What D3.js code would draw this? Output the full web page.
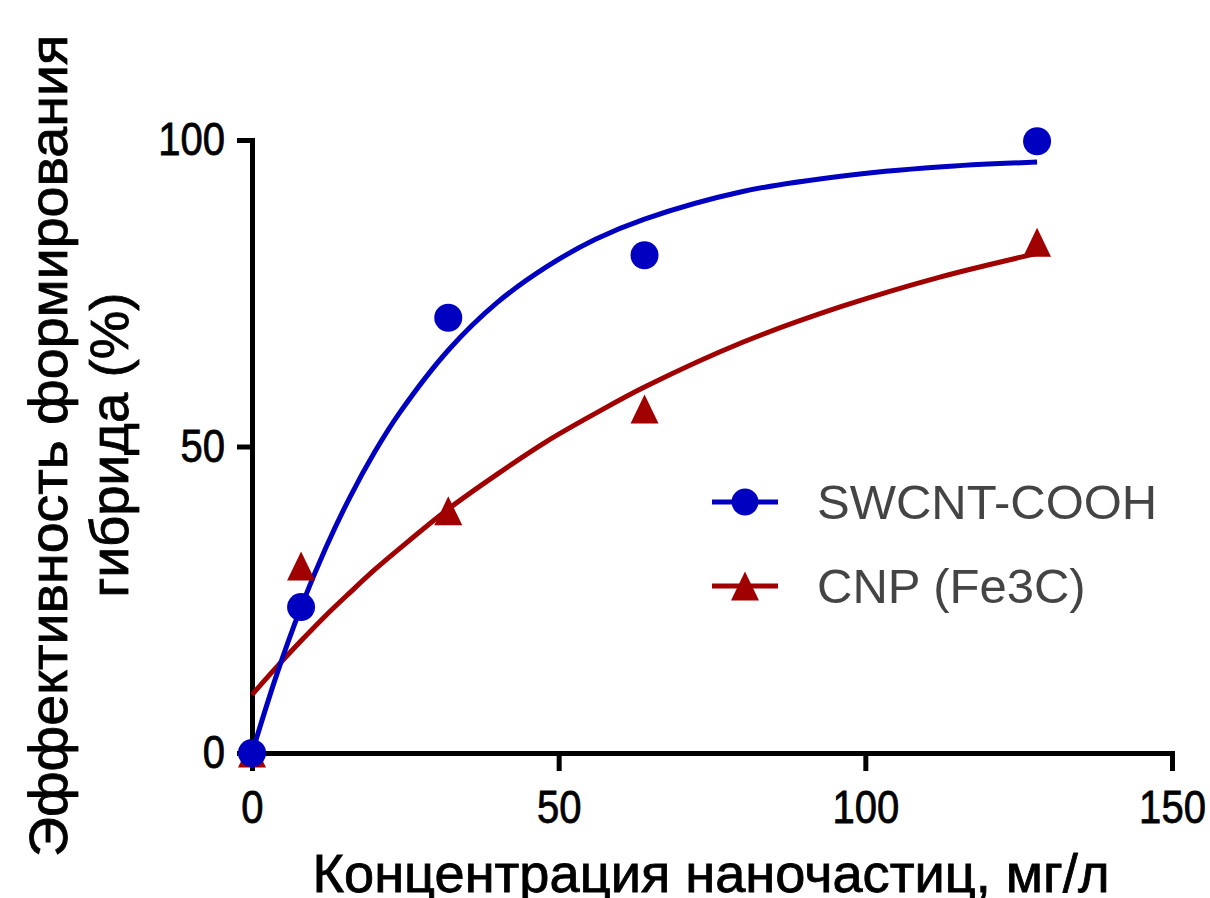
<!DOCTYPE html>
<html>
<head>
<meta charset="utf-8">
<title>Эффективность формирования гибрида</title>
<script src="https://d3js.org/d3.v7.min.js"></script>
<style>
  html, body { margin: 0; padding: 0; background: #fff; }
  svg text { font-family: "Liberation Sans", Arial, sans-serif; }
  .axis path, .axis line { stroke: #000; stroke-width: 5px; }
  .axis text { font-size: 46px; fill: #000; stroke: #000; stroke-width: 0.8px; }
  .title { fill: #000; stroke: #000; stroke-width: 0.8px; }
</style>
</head>
<body>
<div id="chart"></div>
<script>
// measured points
const conc = [0, 8, 32, 64, 128];
const swcnt = [0, 23.8, 71.0, 81.2, 99.8];
const cnp = [0, 30.5, 39.5, 56.1, 83.3];

// fitted curves
const fitX = [0, 4, 8, 12, 16, 20, 24, 32, 40, 48, 56, 64, 80, 96, 112, 128];
const fitSwcnt = [0, 12.7, 23.8, 33.4, 41.8, 49.1, 55.4, 65.7, 73.5, 79.3, 83.8, 87.1, 91.6, 94.1, 95.6, 96.4];
const fitCnp = [9.5, 14.0, 18.3, 22.4, 26.2, 29.9, 33.3, 39.8, 45.5, 50.8, 55.4, 59.7, 67.0, 72.8, 77.6, 81.5];

const xTicks = [0, 50, 100, 150];
const yTicks = [0, 50, 100];
const seriesNames = ["SWCNT-COOH", "CNP (Fe3C)"];

const width = 1210, height = 898;
const blue = "#0000c0", red = "#a00000";

const svg = d3.select("#chart").append("svg")
  .attr("width", width).attr("height", height);

const x = d3.scaleLinear().domain([0, 150]).range([252, 1172]);
const y = d3.scaleLinear().domain([0, 100]).range([753, 140]);

// axes
svg.append("g").attr("class", "axis")
  .attr("transform", "translate(0,753)")
  .call(d3.axisBottom(x).tickValues(xTicks).tickSize(18).tickSizeOuter(0).tickPadding(19));
svg.append("g").attr("class", "axis")
  .attr("transform", "translate(252,0)")
  .call(d3.axisLeft(y).tickValues(yTicks).tickSize(15).tickSizeOuter(0).tickPadding(12));
svg.selectAll(".axis .domain").attr("stroke-linecap", "square");

// the labels in the picture are a bit narrow
svg.selectAll(".axis text").each(function() {
  const w = this.getComputedTextLength();
  d3.select(this).attr("textLength", w * 0.87).attr("lengthAdjust", "spacingAndGlyphs");
});

// axis titles
svg.append("text").attr("class", "title")
  .attr("x", 711).attr("y", 892)
  .attr("text-anchor", "middle")
  .attr("font-size", 53)
  .attr("textLength", 797).attr("lengthAdjust", "spacingAndGlyphs")
  .text("Концентрация наночастиц, мг/л");

svg.append("text").attr("class", "title")
  .attr("transform", "translate(67,446) rotate(-90)")
  .attr("text-anchor", "middle")
  .attr("font-size", 53)
  .attr("textLength", 822).attr("lengthAdjust", "spacingAndGlyphs")
  .text("Эффективность формирования");

svg.append("text").attr("class", "title")
  .attr("transform", "translate(128,445) rotate(-90)")
  .attr("text-anchor", "middle")
  .attr("font-size", 53)
  .attr("textLength", 305).attr("lengthAdjust", "spacingAndGlyphs")
  .text("гибрида (%)");

// fitted curves
const line = d3.line()
  .x(d => x(d[0])).y(d => y(d[1]))
  .curve(d3.curveCatmullRom.alpha(0.5));

svg.append("path")
  .datum(fitX.map((v, i) => [v, fitCnp[i]]))
  .attr("d", line).attr("fill", "none")
  .attr("stroke", red).attr("stroke-width", 5);

svg.append("path")
  .datum(fitX.map((v, i) => [v, fitSwcnt[i]]))
  .attr("d", line).attr("fill", "none")
  .attr("stroke", blue).attr("stroke-width", 5);

// triangle marker
function tri(cx, cy) {
  return "M" + cx + "," + (cy - 14.5) + "L" + (cx + 14) + "," + (cy + 14.5) + "L" + (cx - 14) + "," + (cy + 14.5) + "Z";
}

svg.append("g").selectAll("path")
  .data(conc.map((v, i) => [v, cnp[i]]))
  .join("path")
  .attr("d", d => tri(x(d[0]), y(d[1])))
  .attr("fill", red);

svg.append("g").selectAll("circle")
  .data(conc.map((v, i) => [v, swcnt[i]]))
  .join("circle")
  .attr("cx", d => x(d[0])).attr("cy", d => y(d[1]))
  .attr("r", 14).attr("fill", blue);

// legend
const legend = svg.append("g");
const rows = [502, 586];
legend.selectAll("line")
  .data(rows).join("line")
  .attr("x1", 712).attr("x2", 778)
  .attr("y1", d => d).attr("y2", d => d)
  .attr("stroke", (d, i) => i === 0 ? blue : red)
  .attr("stroke-width", 5);
legend.append("circle").attr("cx", 745).attr("cy", rows[0]).attr("r", 13.5).attr("fill", blue);
legend.append("path").attr("d", tri(745, rows[1])).attr("fill", red);
legend.selectAll("text")
  .data(seriesNames).join("text")
  .attr("x", 817)
  .attr("y", (d, i) => rows[i] + 17)
  .attr("font-size", 49)
  .attr("fill", "#444")
  .text(d => d);
</script>
</body>
</html>
